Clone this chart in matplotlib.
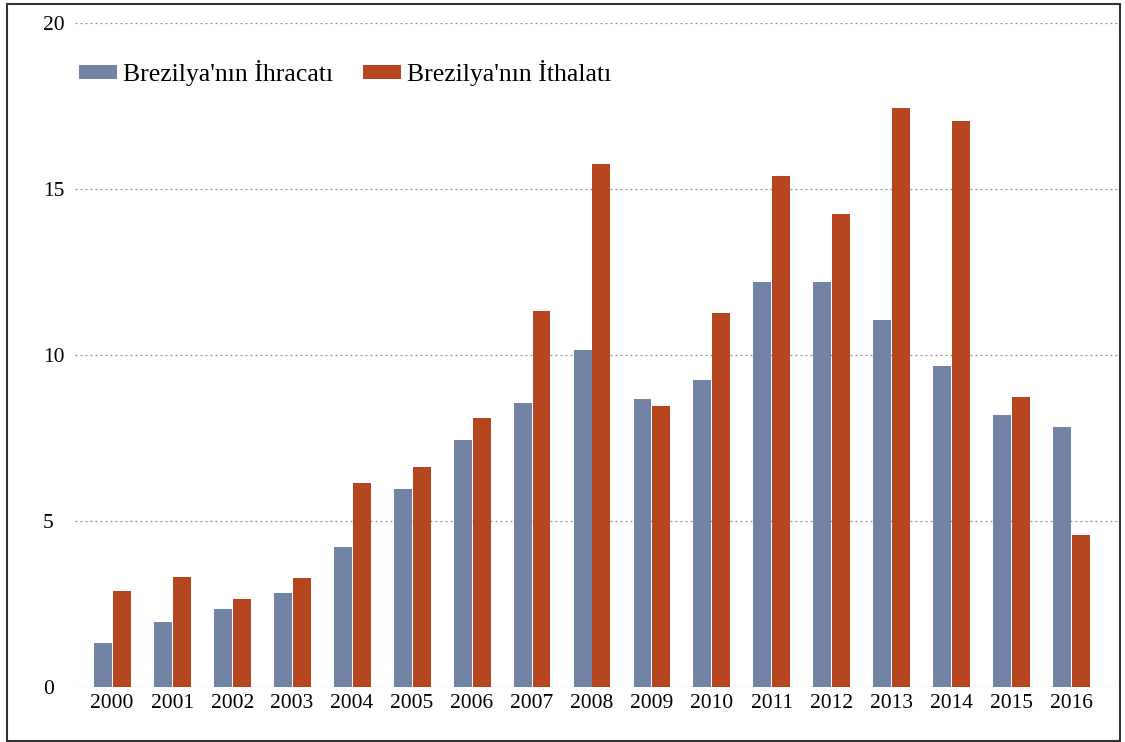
import numpy as np
import matplotlib
matplotlib.use('Agg')
import matplotlib.pyplot as plt
from matplotlib.patches import Rectangle

# data
years = ['2000', '2001', '2002', '2003', '2004', '2005', '2006', '2007', '2008',
         '2009', '2010', '2011', '2012', '2013', '2014', '2015', '2016']
ihracat = [1.33, 1.96, 2.35, 2.83, 4.22, 5.96, 7.44, 8.55, 10.15,
           8.67, 9.25, 12.2, 12.2, 11.05, 9.67, 8.19, 7.83]
ithalat = [2.89, 3.31, 2.65, 3.28, 6.14, 6.63, 8.10, 11.33, 15.75,
           8.46, 11.27, 15.39, 14.25, 17.44, 17.05, 8.73, 4.58]
yticks = [0, 5, 10, 15, 20]

blue = '#7283a6'
red = '#b5461f'

plt.rcParams['font.family'] = ['Liberation Serif', 'DejaVu Serif']

W, H = 1125, 742
fig = plt.figure(figsize=(W / 100, H / 100), dpi=100)
ax = fig.add_axes([75 / W, 55 / H, (1118 - 75) / W, (719 - 55) / H])

x = np.arange(len(years))
bw = 0.3
ax.bar(x - 0.158, ihracat, bw, color=blue, label="Brezilya'nın İhracatı", zorder=3)
ax.bar(x + 0.158, ithalat, bw, color=red, label="Brezilya'nın İthalatı", zorder=3)

ax.set_xlim(-0.62, 16.77)
ax.set_ylim(0, 20)
ax.set_xticks(x)
ax.set_xticklabels(years, fontsize=15.5)
ax.set_yticks(yticks)
ax.set_yticklabels([str(t) for t in yticks], fontsize=15.5, ha='left')
ax.tick_params(axis='both', length=0)
ax.tick_params(axis='y', pad=23)
ax.tick_params(axis='x', pad=5)
ax.grid(axis='y', linestyle=(0, (1.5, 2.5)), color='#8a8a8a', linewidth=0.9, zorder=0)
for s in ax.spines.values():
    s.set_visible(False)

fs = 18.5
px = fs * 100 / 72
ax.legend(loc='center left', bbox_to_anchor=(79 / W, (H - 73) / H),
          bbox_transform=fig.transFigure, frameon=False, ncol=2,
          fontsize=fs, handlelength=38 / px, handleheight=13 / px,
          handletextpad=6 / px, columnspacing=30 / px, borderpad=0, borderaxespad=0)

# outer frame
fig.patches.append(Rectangle((7 / W, 1 / H), (1120 - 7) / W, (738 - 1) / H,
                             transform=fig.transFigure, fill=False,
                             edgecolor='#333333', linewidth=1.5))

fig.savefig('out.png', dpi=100)
